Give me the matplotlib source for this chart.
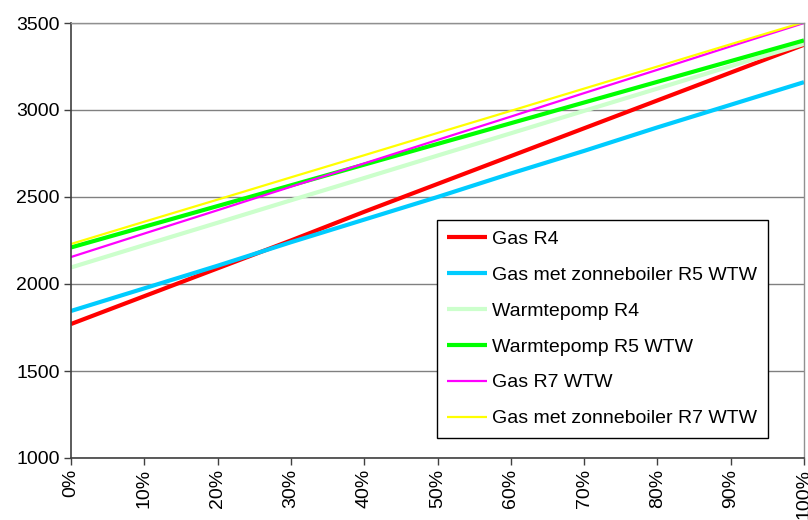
import matplotlib.pyplot as plt
import matplotlib
from matplotlib.ticker import FuncFormatter

matplotlib.rc('font', family=['Liberation Sans', 'DejaVu Sans'])

# aandeel (0..1) en kosten per variant
x_axis_data = [0.0, 0.1, 0.2, 0.3, 0.4, 0.5, 0.6, 0.7, 0.8, 0.9, 1.0]
gas_r4 = [1770, 1930, 2090, 2250, 2415, 2575, 2735, 2895, 3055, 3215, 3375]
gas_zon_r5 = [1845, 1975, 2105, 2240, 2370, 2500, 2635, 2765, 2900, 3030, 3160]
wp_r4 = [2095, 2224, 2352, 2481, 2609, 2738, 2866, 2995, 3123, 3252, 3380]
wp_r5 = [2210, 2329, 2448, 2567, 2686, 2805, 2924, 3043, 3162, 3281, 3400]
gas_r7 = [2155, 2290, 2424, 2559, 2693, 2828, 2962, 3097, 3231, 3366, 3500]
gas_zon_r7 = [2230, 2358, 2485, 2613, 2740, 2868, 2995, 3123, 3250, 3378, 3505]

series = [
    (gas_r4, 'Gas R4', '#FF0000', 3.0),
    (gas_zon_r5, 'Gas met zonneboiler R5 WTW', '#00CCFF', 3.0),
    (wp_r4, 'Warmtepomp R4', '#CCFFCC', 3.0),
    (wp_r5, 'Warmtepomp R5 WTW', '#00FF00', 3.0),
    (gas_r7, 'Gas R7 WTW', '#FF00FF', 1.6),
    (gas_zon_r7, 'Gas met zonneboiler R7 WTW', '#FFFF00', 1.6),
]

fig = plt.figure(figsize=(8.08, 5.2), dpi=100)
ax = fig.add_axes([71 / 808, 62 / 520, 733 / 808, 435 / 520])

for data, label, color, lw in series:
    ax.plot(x_axis_data, data, color=color, linewidth=lw, label=label,
            solid_capstyle='butt')

ax.set_xlim(0, 1)
ax.set_ylim(1000, 3500)
ax.set_xticks([i / 10 for i in range(11)])
ax.set_yticks(range(1000, 3501, 500))
ax.xaxis.set_major_formatter(FuncFormatter(lambda v, p: '%d%%' % round(v * 100)))
ax.tick_params(axis='x', labelrotation=90, labelsize=14, length=5, width=1, color='#404040', pad=3)
ax.tick_params(axis='y', labelsize=14, length=5, width=1, color='#404040', pad=3)

ax.grid(axis='y', color='#808080', linewidth=1)
ax.set_axisbelow(True)
for side in ['left', 'bottom']:
    ax.spines[side].set_color('#404040')
    ax.spines[side].set_linewidth(1.2)
for side in ['top', 'right']:
    ax.spines[side].set_color('#909090')
    ax.spines[side].set_linewidth(1)

leg = ax.legend(loc='upper left', bbox_to_anchor=(437 / 808, 1 - 220 / 520),
                bbox_transform=fig.transFigure, borderaxespad=0, fontsize=14,
                frameon=True, fancybox=False, edgecolor='black', framealpha=1,
                handlelength=2.05, handletextpad=0.26, labelspacing=0.94, borderpad=0.53)
leg.get_frame().set_linewidth(1)

fig.savefig('out.png', dpi=100)
